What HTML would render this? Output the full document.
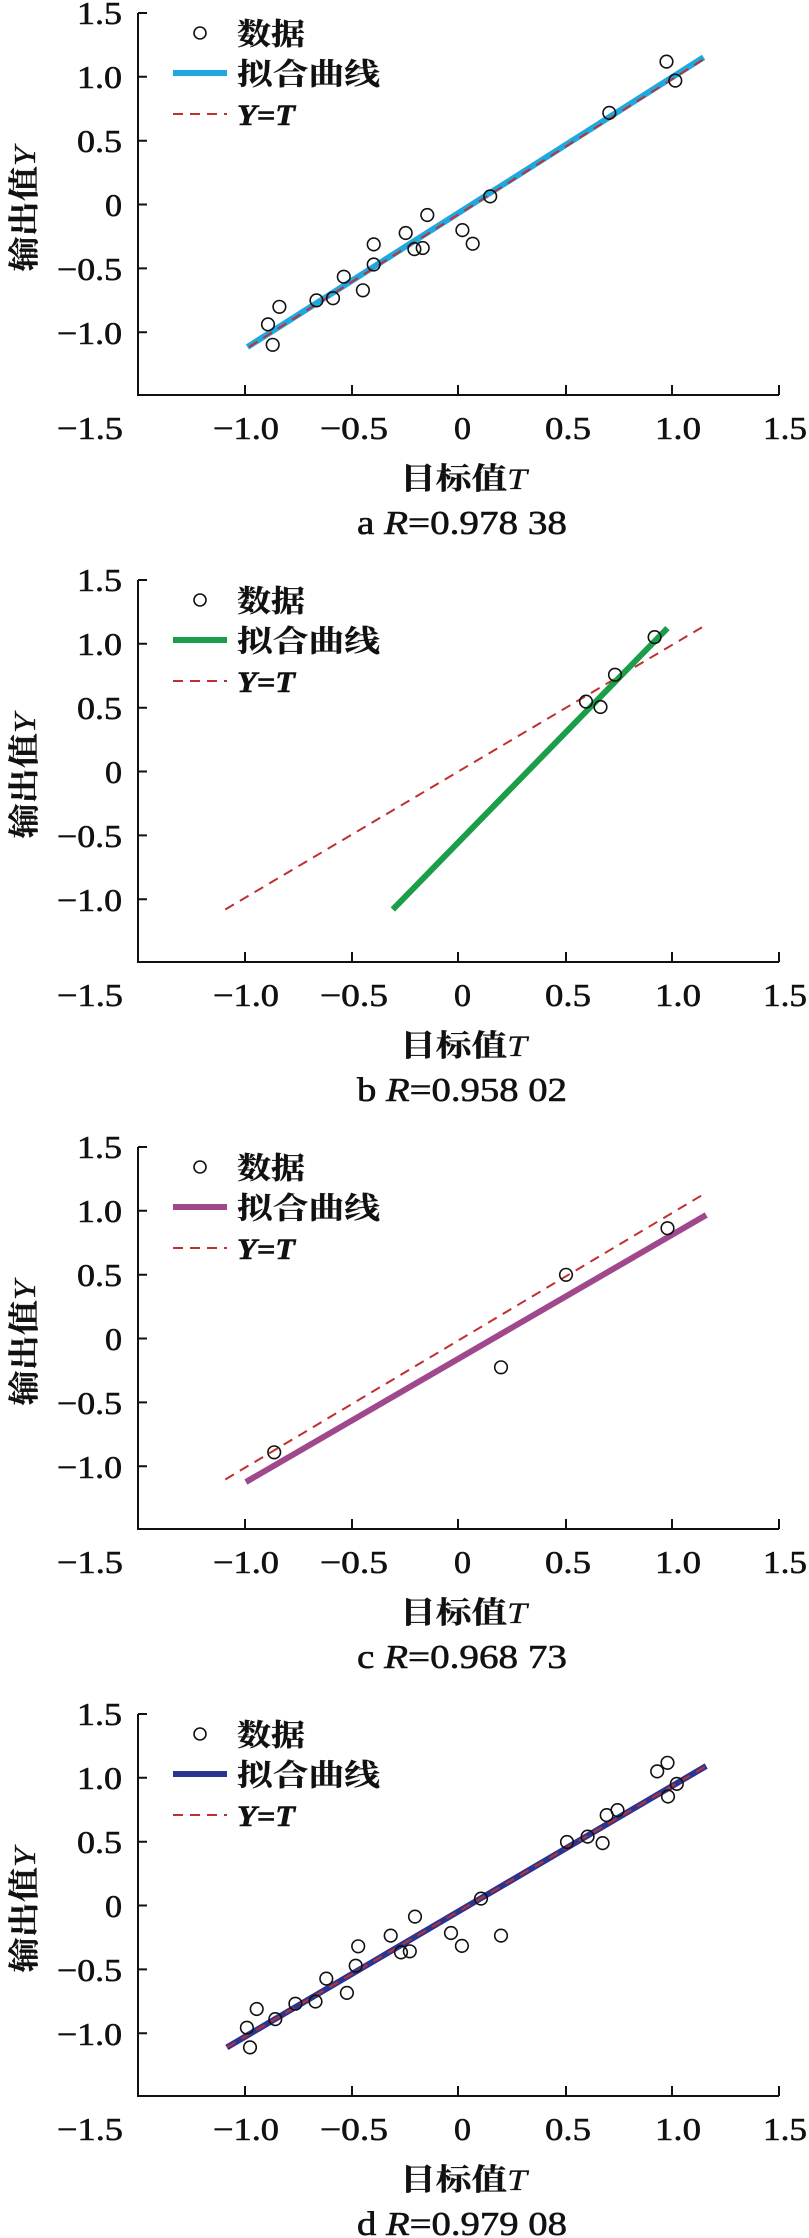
<!DOCTYPE html>
<html><head><meta charset="utf-8"><style>
html,body{margin:0;padding:0;background:#fff;}
svg{display:block;}
text{font-family:"Liberation Serif","Noto Serif CJK SC","Noto Sans CJK SC",serif;fill:#111;stroke:#111;stroke-width:0.6;}
.cjk{font-family:"Liberation Serif","Noto Serif CJK SC","Noto Sans CJK SC",serif;font-weight:bold;stroke-width:0.3;}
</style></head><body>
<svg width="809" height="2238" viewBox="0 0 809 2238" xmlns="http://www.w3.org/2000/svg">
<defs>
<g id="frame">
  <path d="M138 13 V395 H779" fill="none" stroke="#111" stroke-width="2"/>
  <path d="M138 13 h9 M138 76.8 h9 M138 140.7 h9 M138 204.5 h9 M138 268.4 h9 M138 332.2 h9" stroke="#111" stroke-width="2"/>
  <path d="M245 395 v-10 M352 395 v-10 M458 395 v-10 M566 395 v-10 M672 395 v-10 M779 395 v-10" stroke="#111" stroke-width="2"/>
  <g font-size="32" text-anchor="end">
    <text x="122" y="24" textLength="45" lengthAdjust="spacingAndGlyphs">1.5</text>
    <text x="122" y="88" textLength="45" lengthAdjust="spacingAndGlyphs">1.0</text>
    <text x="122" y="152" textLength="45" lengthAdjust="spacingAndGlyphs">0.5</text>
    <text x="122" y="216" textLength="17" lengthAdjust="spacingAndGlyphs">0</text>
    <text x="122" y="280" textLength="65" lengthAdjust="spacingAndGlyphs">−0.5</text>
    <text x="122" y="344" textLength="65" lengthAdjust="spacingAndGlyphs">−1.0</text>
  </g>
  <g font-size="32">
    <text x="57" y="439" textLength="66" lengthAdjust="spacingAndGlyphs">−1.5</text>
    <text x="213" y="439" textLength="66" lengthAdjust="spacingAndGlyphs">−1.0</text>
    <text x="320" y="439" textLength="68" lengthAdjust="spacingAndGlyphs">−0.5</text>
    <text x="454" y="439" textLength="17" lengthAdjust="spacingAndGlyphs">0</text>
    <text x="545" y="439" textLength="46" lengthAdjust="spacingAndGlyphs">0.5</text>
    <text x="655" y="439" textLength="46" lengthAdjust="spacingAndGlyphs">1.0</text>
    <text x="763" y="439" textLength="44" lengthAdjust="spacingAndGlyphs">1.5</text>
  </g>
  <text class="cjk" x="400" y="489" font-size="30" textLength="127" lengthAdjust="spacingAndGlyphs">目标值<tspan font-style="italic" font-weight="normal" font-family="Liberation Serif">T</tspan></text>
  <text class="cjk" transform="translate(35,209) rotate(-90)" text-anchor="middle" font-size="31" textLength="125" lengthAdjust="spacingAndGlyphs">输出值<tspan font-style="italic" font-weight="normal" font-family="Liberation Serif">Y</tspan></text>
  <circle cx="200" cy="33" r="6" fill="none" stroke="#111" stroke-width="1.6"/>
  <text class="cjk" x="237" y="44.5" font-size="30" textLength="68" lengthAdjust="spacingAndGlyphs">数据</text>
  <text class="cjk" x="237" y="84.5" font-size="30" textLength="143" lengthAdjust="spacingAndGlyphs">拟合曲线</text>
  <path d="M173 114 H227" stroke="#c0302f" stroke-width="2" stroke-dasharray="10,7"/>
  <text x="237" y="125" font-size="30" font-style="italic" font-weight="bold" textLength="58" lengthAdjust="spacingAndGlyphs">Y=T</text>
</g>
</defs>

<use href="#frame"/>
<path d="M173 73 H227" stroke="#1fa8e0" stroke-width="6"/>
<line x1="247.4" y1="347" x2="703.6" y2="57.3" stroke="#1fa8e0" stroke-width="6"/>
<line x1="249" y1="347" x2="704" y2="59" stroke="#c0302f" stroke-width="2" stroke-dasharray="10,7"/>
<g fill="none" stroke="#111" stroke-width="1.6">
<circle cx="666.5" cy="61.6" r="6.3"/><circle cx="675.3" cy="80.6" r="6.3"/><circle cx="609.3" cy="112.9" r="6.3"/>
<circle cx="490.2" cy="196.4" r="6.3"/><circle cx="427.3" cy="215" r="6.3"/><circle cx="405.7" cy="233" r="6.3"/>
<circle cx="462.4" cy="230.1" r="6.3"/><circle cx="472.7" cy="243.7" r="6.3"/><circle cx="414.4" cy="249.1" r="6.3"/>
<circle cx="422.7" cy="248" r="6.3"/><circle cx="373.7" cy="244.4" r="6.3"/><circle cx="373.7" cy="264.5" r="6.3"/>
<circle cx="343.8" cy="276.7" r="6.3"/><circle cx="362.9" cy="290.3" r="6.3"/><circle cx="316.5" cy="300.4" r="6.3"/>
<circle cx="333" cy="298.2" r="6.3"/><circle cx="279.4" cy="306.8" r="6.3"/><circle cx="268" cy="324.4" r="6.3"/>
<circle cx="272.7" cy="344.8" r="6.3"/>
</g>
<text x="357" y="534" font-size="34" textLength="210" lengthAdjust="spacingAndGlyphs">a  <tspan font-style="italic">R</tspan>=0.978 38</text>

<g transform="translate(0,567)">
<use href="#frame"/>
<path d="M173 73 H227" stroke="#1a9e4a" stroke-width="6"/>
<text x="357" y="534" font-size="34" textLength="210" lengthAdjust="spacingAndGlyphs">b  <tspan font-style="italic">R</tspan>=0.958 02</text>
</g>
<line x1="225.3" y1="909.5" x2="703.6" y2="626.3" stroke="#c0302f" stroke-width="2" stroke-dasharray="10,7"/>
<line x1="392.8" y1="909.5" x2="667.5" y2="628.1" stroke="#1a9e4a" stroke-width="6"/>
<g fill="none" stroke="#111" stroke-width="1.6">
<circle cx="586" cy="701.6" r="6.3"/><circle cx="600.5" cy="707" r="6.3"/><circle cx="615" cy="674.7" r="6.3"/><circle cx="654.6" cy="637.1" r="6.3"/>
</g>

<g transform="translate(0,1134)">
<use href="#frame"/>
<path d="M173 73 H227" stroke="#a0488c" stroke-width="6"/>
<text x="357" y="534" font-size="34" textLength="210" lengthAdjust="spacingAndGlyphs">c  <tspan font-style="italic">R</tspan>=0.968 73</text>
</g>
<line x1="245.9" y1="1482" x2="706.2" y2="1215" stroke="#a0488c" stroke-width="6"/>
<line x1="225.3" y1="1479.5" x2="703.6" y2="1194.2" stroke="#c0302f" stroke-width="2" stroke-dasharray="10,7"/>
<g fill="none" stroke="#111" stroke-width="1.6">
<circle cx="274.2" cy="1452.3" r="6.3"/><circle cx="501" cy="1367.3" r="6.3"/><circle cx="566" cy="1274.8" r="6.3"/><circle cx="667.5" cy="1228.2" r="6.3"/>
</g>

<g transform="translate(0,1701)">
<use href="#frame"/>
<path d="M173 73 H227" stroke="#2b3590" stroke-width="6"/>
<text x="357" y="534" font-size="34" textLength="210" lengthAdjust="spacingAndGlyphs">d  <tspan font-style="italic">R</tspan>=0.979 08</text>
</g>
<line x1="226.8" y1="2047.4" x2="706.2" y2="1766" stroke="#2b3590" stroke-width="6"/>
<line x1="226.8" y1="2047.4" x2="706.2" y2="1766" stroke="#c0302f" stroke-width="2" stroke-dasharray="10,7"/>
<g fill="none" stroke="#111" stroke-width="1.6">
<circle cx="246.9" cy="2027.7" r="6.3"/><circle cx="250" cy="2047.4" r="6.3"/><circle cx="256.7" cy="2009" r="6.3"/>
<circle cx="275.3" cy="2019.1" r="6.3"/><circle cx="295.4" cy="2003.7" r="6.3"/><circle cx="315.5" cy="2001.5" r="6.3"/>
<circle cx="326.3" cy="1978.6" r="6.3"/><circle cx="346.9" cy="1992.9" r="6.3"/><circle cx="355.7" cy="1965.7" r="6.3"/>
<circle cx="358.2" cy="1946.3" r="6.3"/><circle cx="390.7" cy="1935.6" r="6.3"/><circle cx="401" cy="1952.4" r="6.3"/>
<circle cx="409.8" cy="1951.3" r="6.3"/><circle cx="415" cy="1916.6" r="6.3"/><circle cx="451" cy="1933" r="6.3"/>
<circle cx="461.9" cy="1945.9" r="6.3"/><circle cx="481" cy="1898.6" r="6.3"/><circle cx="501" cy="1935.6" r="6.3"/>
<circle cx="567" cy="1842" r="6.3"/><circle cx="587.6" cy="1836.6" r="6.3"/><circle cx="602.6" cy="1843.1" r="6.3"/>
<circle cx="606.7" cy="1815.1" r="6.3"/><circle cx="617.5" cy="1810.1" r="6.3"/><circle cx="657.2" cy="1771.4" r="6.3"/>
<circle cx="667.5" cy="1762.8" r="6.3"/><circle cx="668" cy="1796.5" r="6.3"/><circle cx="676.8" cy="1783.9" r="6.3"/>
</g>
</svg>
</body></html>
